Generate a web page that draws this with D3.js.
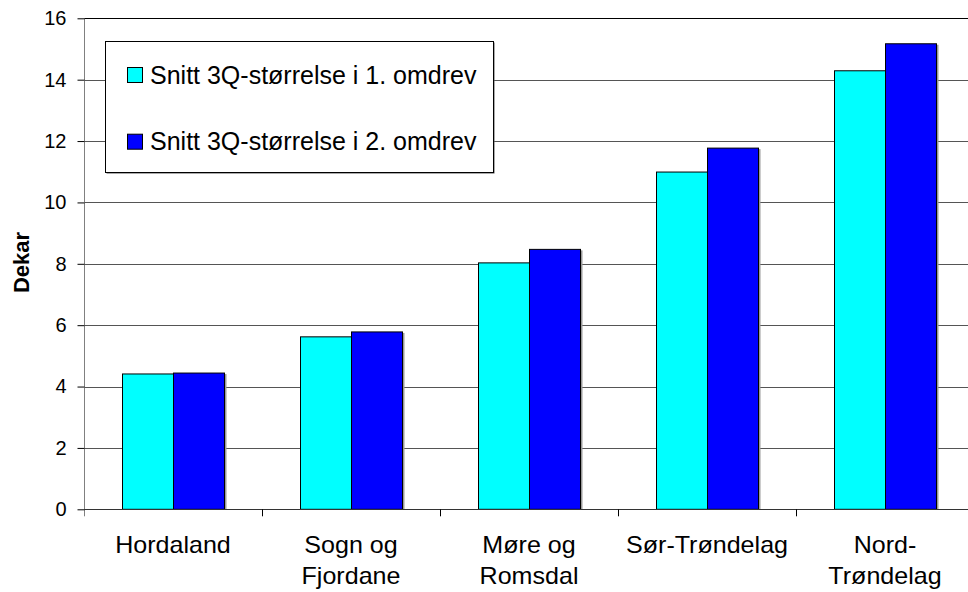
<!DOCTYPE html>
<html>
<head>
<meta charset="utf-8">
<script src="https://cdn.jsdelivr.net/npm/d3@7/dist/d3.min.js"></script>
<style>
  html, body { margin: 0; padding: 0; background: #fff; }
  svg { display: block; font-family: "Liberation Sans", Arial, sans-serif; }
</style>
</head>
<body>
<svg id="chart" width="968" height="592"></svg>
<script>
// Average 3Q area (dekar) per county, first and second survey round
const categories = [["Hordaland"], ["Sogn og", "Fjordane"], ["Møre og", "Romsdal"], ["Sør-Trøndelag"], ["Nord-", "Trøndelag"]];
const seriesNames = ["Snitt 3Q-størrelse i 1. omdrev", "Snitt 3Q-størrelse i 2. omdrev"];
const round1 = [4.41, 5.62, 8.03, 10.99, 14.29];
const round2 = [4.44, 5.78, 8.47, 11.77, 15.17];
const yTicks = [0, 2, 4, 6, 8, 10, 12, 14, 16];
const colors = ["#00FFFF", "#0000FF"];

const svg = d3.select("#chart");
const plotLeft = 84, plotRight = 974, plotTop = 18.3, plotBottom = 509.3;

const catKeys = categories.map(c => c.join(" "));
const x = d3.scaleBand().domain(catKeys).range([plotLeft, plotRight]).padding(0);
const inner = d3.scaleBand().domain([0, 1]).range([38, 140]).padding(0);
const y = d3.scaleLinear().domain([0, 16]).range([plotBottom, plotTop]);

// horizontal gridlines (top one darker)
svg.append("g").selectAll("line")
  .data(yTicks.filter(t => t > 0))
  .join("line")
  .attr("x1", plotLeft).attr("x2", 968)
  .attr("y1", d => Math.round(y(d)) + 0.5).attr("y2", d => Math.round(y(d)) + 0.5)
  .attr("stroke", d => d === 16 ? "#000" : "#555").attr("stroke-width", 1.2);

// bars, with a thin grey shade on the right edge
const data = catKeys.map((k, i) => ({ k, vals: [round1[i], round2[i]] }));
const groups = svg.append("g").selectAll("g")
  .data(data).join("g")
  .attr("transform", d => `translate(${x(d.k)},0)`);
groups.append("rect")
  .attr("x", inner(1) + inner.bandwidth() + 1)
  .attr("width", 1.5)
  .attr("y", d => y(d.vals[1]) + 1)
  .attr("height", d => plotBottom - y(d.vals[1]) - 1)
  .attr("fill", "#999");
groups.selectAll("rect.bar")
  .data(d => d.vals.map((v, s) => ({ v, s })))
  .join("rect")
  .attr("class", "bar")
  .attr("x", d => inner(d.s) + 0.5)
  .attr("width", inner.bandwidth())
  .attr("y", d => y(d.v))
  .attr("height", d => plotBottom - y(d.v))
  .attr("fill", d => colors[d.s])
  .attr("stroke", "#000").attr("stroke-width", 1);

// y axis
const yAxis = d3.axisLeft(y).tickValues(yTicks).tickSize(7).tickPadding(11).tickFormat(d3.format("d"));
const gy = svg.append("g").attr("transform", `translate(${plotLeft + 0.5},0)`).call(yAxis);
gy.select(".domain").attr("stroke", "#808080").attr("d", `M0,${plotTop}V${plotBottom + 7}`);
gy.selectAll(".tick line").attr("stroke", "#000");
gy.selectAll(".tick text").attr("font-size", 20).attr("fill", "#000")
  .attr("font-family", "Liberation Sans, Arial, sans-serif");

// x axis
svg.append("line")
  .attr("x1", plotLeft).attr("x2", 968)
  .attr("y1", Math.round(plotBottom) + 0.5).attr("y2", Math.round(plotBottom) + 0.5)
  .attr("stroke", "#333").attr("stroke-width", 1.2);
svg.append("g").selectAll("line")
  .data(catKeys.slice(1))
  .join("line")
  .attr("x1", d => Math.round(x(d)) + 0.5).attr("x2", d => Math.round(x(d)) + 0.5)
  .attr("y1", plotBottom).attr("y2", plotBottom + 7)
  .attr("stroke", "#000");

// category labels (slightly widened glyphs)
const labels = svg.append("g").selectAll("text")
  .data(categories.map((lines, i) => ({ lines, k: catKeys[i] })))
  .join("text")
  .attr("text-anchor", "middle")
  .attr("font-size", 23)
  .attr("fill", "#000")
  .attr("transform", d => `translate(${x(d.k) + x.bandwidth() / 2},553.3) scale(1.09,1)`);
labels.selectAll("tspan")
  .data(d => d.lines)
  .join("tspan")
  .attr("x", 0)
  .attr("y", (d, i) => i * 31)
  .text(d => d);

// y axis title
svg.append("text")
  .attr("transform", "translate(28.5,262.5) rotate(-90)")
  .attr("text-anchor", "middle")
  .attr("font-size", 22).attr("font-weight", "bold")
  .text("Dekar");

// legend
const lg = svg.append("g");
lg.append("rect").attr("x", 106.5).attr("y", 42.5).attr("width", 388).attr("height", 131).attr("fill", "#555");
lg.append("rect").attr("x", 105.5).attr("y", 41.5).attr("width", 388).attr("height", 131)
  .attr("fill", "#fff").attr("stroke", "#000");
const items = lg.selectAll("g.item").data(seriesNames).join("g")
  .attr("transform", (d, i) => `translate(127.5,${67.5 + i * 66.7})`);
items.append("rect").attr("width", 15).attr("height", 15)
  .attr("fill", (d, i) => colors[i]).attr("stroke", "#000");
items.append("text").attr("x", 22.5).attr("y", 16)
  .attr("font-size", 25).text(d => d);
</script>
</body>
</html>
